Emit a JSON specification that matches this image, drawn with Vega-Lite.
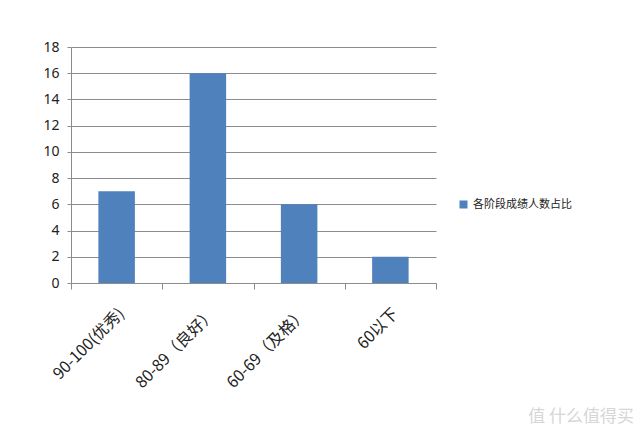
{
  "$schema": "https://vega.github.io/schema/vega-lite/v6.json",
  "width": 365,
  "height": 236,
  "padding": {"left": 42, "top": 40, "right": 5, "bottom": 5},
  "background": "white",
  "data": {
    "values": [
      {"grade": "90-100(优秀)", "count": 7},
      {"grade": "80-89（良好）", "count": 16},
      {"grade": "60-69（及格）", "count": 6},
      {"grade": "60以下", "count": 2}
    ]
  },
  "title": {
    "text": "值 什么值得买",
    "orient": "bottom",
    "anchor": "end",
    "frame": "bounds",
    "color": "#d6d6d6",
    "fontSize": 17,
    "font": "Noto Sans CJK SC",
    "fontWeight": "normal",
    "offset": 18,
    "dx": 62
  },
  "mark": {"type": "bar", "color": "#4f81bd", "width": {"band": 0.4}},
  "encoding": {
    "x": {
      "field": "grade",
      "type": "nominal",
      "sort": null,
      "scale": {"paddingInner": 0, "paddingOuter": 0},
      "axis": {
        "title": null,
        "labelAngle": -45,
        "labelFontSize": 16,
        "labelFont": "Noto Sans CJK SC",
        "labelColor": "#222",
        "labelPadding": 16,
        "labelOffset": -1,
        "tickBand": "extent",
        "tickSize": 6,
        "tickColor": "#8c8c8c",
        "domainColor": "#8c8c8c",
        "grid": false
      }
    },
    "y": {
      "field": "count",
      "type": "quantitative",
      "scale": {"domain": [0, 18]},
      "axis": {
        "title": null,
        "values": [0, 2, 4, 6, 8, 10, 12, 14, 16, 18],
        "labelFontSize": 14,
        "labelFont": "Noto Sans",
        "labelColor": "#222",
        "labelPadding": 8,
        "tickSize": 4,
        "tickColor": "#8c8c8c",
        "domainColor": "#8c8c8c",
        "gridColor": "#8c8c8c",
        "gridOpacity": 1
      }
    },
    "color": {
      "datum": "各阶段成绩人数占比",
      "scale": {"range": ["#4f81bd"]},
      "legend": {
        "title": null,
        "orient": "none",
        "legendX": 387,
        "legendY": 152,
        "symbolType": "square",
        "symbolSize": 64,
        "symbolStrokeWidth": 0,
        "labelFont": "Noto Sans CJK SC",
        "labelFontSize": 11,
        "labelColor": "#222"
      }
    }
  },
  "config": {"view": {"stroke": null}}
}
